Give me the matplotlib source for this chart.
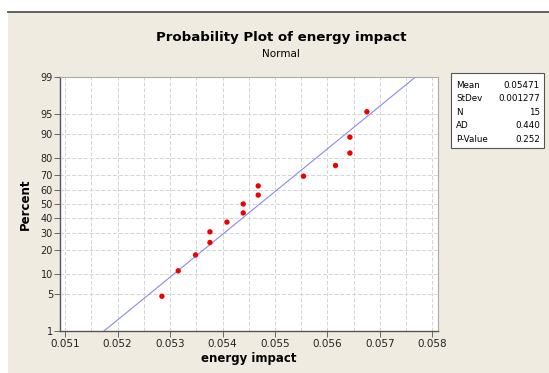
from statistics import NormalDist
import matplotlib
matplotlib.use("Agg")
import matplotlib.pyplot as plt
from matplotlib.patches import Rectangle

# values
energy_impact = [0.052844, 0.053155, 0.053485, 0.05376, 0.05376, 0.054084, 0.054395,
                 0.054395, 0.054681, 0.054681, 0.055545, 0.056155, 0.05643, 0.05643, 0.056754]
percent = [4.55, 11.04, 17.53, 24.03, 30.52, 37.01, 43.51, 50.0,
           56.49, 62.99, 69.48, 75.97, 82.47, 88.96, 95.45]
y_ticks = [1, 5, 10, 20, 30, 40, 50, 60, 70, 80, 90, 95, 99]
x_ticks = [0.051, 0.052, 0.053, 0.054, 0.055, 0.056, 0.057, 0.058]

stat_names = ["Mean", "StDev", "N", "AD", "P-Value"]
stat_values = ["0.05471", "0.001277", "15", "0.440", "0.252"]
mean, stdev = 0.05471, 0.001277

nd = NormalDist()
z = lambda p: nd.inv_cdf(p / 100.0)

BEIGE = "#efebe1"
FONT = "DejaVu Sans"

fig = plt.figure(figsize=(5.49, 3.73), dpi=100)
fig.patch.set_facecolor("white")
W, H = 549, 373

# beige panel with the dark rule along the top
fig.add_artist(Rectangle((8 / W, 0), 1, 1 - 11.5 / H, transform=fig.transFigure,
                         facecolor=BEIGE, edgecolor="none", zorder=-5))
fig.add_artist(plt.Line2D([8 / W, 1], [1 - 11.5 / H, 1 - 11.5 / H], color="#555555",
                          lw=1.3, transform=fig.transFigure, zorder=-4))

ax = fig.add_axes([60 / W, 1 - 331 / H, (438 - 60) / W, (331 - 77) / H])
ax.set_facecolor("white")

# fitted normal line from 1% to 99%
zl = [z(1), z(99)]
ax.plot([mean + zz * stdev for zz in zl], zl, color="#8a8af2", lw=0.8, zorder=2)
ax.scatter(energy_impact, [z(p) for p in percent], s=15, color="#ee0000",
           edgecolors="none", zorder=3)

ax.set_xticks(x_ticks)
ax.set_xticklabels([f"{v:.3f}" for v in x_ticks])
ax.set_xticks([v + 0.0005 for v in x_ticks[:-1]], minor=True)
ax.set_yticks([z(p) for p in y_ticks])
ax.set_yticklabels([str(p) for p in y_ticks])
ax.set_xlim(0.05090, 0.05811)
ax.set_ylim(z(1), z(99))

ax.grid(True, which="both", axis="x", color="#d4d4d4", ls=(0, (4, 2)), lw=0.7)
ax.grid(True, which="major", axis="y", color="#d4d4d4", ls=(0, (4, 2)), lw=0.7)
ax.set_axisbelow(True)

ax.tick_params(axis="x", which="major", length=4, width=0.7, color="#666666",
               labelsize=7.5, pad=2, labelcolor="#222222")
ax.tick_params(axis="x", which="minor", length=0)
ax.tick_params(axis="y", length=4, width=0.7, color="#666666", labelsize=7,
               pad=1, labelcolor="#222222")
for s in ["left", "bottom"]:
    ax.spines[s].set_color("#555555")
    ax.spines[s].set_linewidth(1.0)
for s in ["top", "right"]:
    ax.spines[s].set_color("#aaaaaa")
    ax.spines[s].set_linewidth(0.8)

ax.set_xlabel("energy impact", fontsize=8.5, fontweight="bold", labelpad=2, family=FONT)
ax.set_ylabel("Percent", fontsize=8.5, fontweight="bold", labelpad=6, family=FONT)

fig.text(281 / W, 1 - 37 / H, "Probability Plot of energy impact", ha="center",
         va="center", fontsize=9.6, fontweight="bold", family=FONT)
fig.text(281 / W, 1 - 54 / H, "Normal", ha="center", va="center", fontsize=7.5,
         family=FONT)

# statistics box
fig.add_artist(Rectangle((451 / W, 1 - 148 / H), 93 / W, 75 / H,
                         transform=fig.transFigure, facecolor="white",
                         edgecolor="#555555", lw=0.8, zorder=1))
for i, (n, v) in enumerate(zip(stat_names, stat_values)):
    yy = 1 - (85 + i * 13.6) / H
    fig.text(456 / W, yy, n, ha="left", va="center", fontsize=6.3, family=FONT, zorder=2)
    fig.text(540 / W, yy, v, ha="right", va="center", fontsize=6.3, family=FONT, zorder=2)

fig.savefig("out.png", dpi=100, facecolor=fig.get_facecolor())
